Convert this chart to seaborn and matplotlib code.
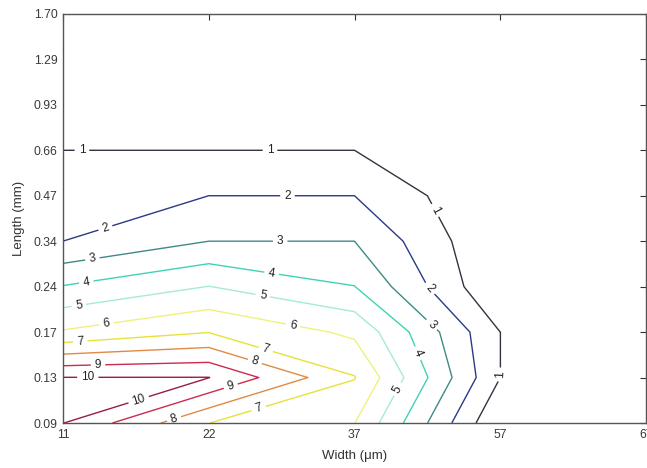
import numpy as np
import matplotlib
matplotlib.use("Agg")
import matplotlib.pyplot as plt
import seaborn as sns

# --- data ---
width_labels = ["11", "22", "37", "57", "67"]
length_labels = ["0.09", "0.13", "0.17", "0.24", "0.34", "0.47", "0.66", "0.93", "1.29", "1.70"]
# one row per length (bottom to top), one value per width
row_009 = [10.02, 7.01, 6.02, 0.0, 0.0]
row_013 = [10.02, 10.02, 7.05, 1.001, 0.0]
row_017 = [6.10, 6.97, 5.80, 1.001, 0.0]
row_024 = [4.05, 5.02, 4.02, 0.0, 0.0]
row_034 = [2.001, 3.001, 3.001, 0.0, 0.0]
row_047 = [1.50, 2.001, 2.001, 0.0, 0.0]
row_066 = [1.001, 1.001, 1.001, 0.0, 0.0]
row_093 = [0.0, 0.0, 0.0, 0.0, 0.0]
row_129 = [0.0, 0.0, 0.0, 0.0, 0.0]
row_170 = [0.0, 0.0, 0.0, 0.0, 0.0]
levels = [1, 2, 3, 4, 5, 6, 7, 8, 9, 10]
level_colors = ["#2e3440", "#2a3a86", "#3e8a86", "#3fd2b4", "#a6eadc",
                "#eef27a", "#e6e23a", "#e08a44", "#cc2a4e", "#9a1c42"]

Z = np.array([row_009, row_013, row_017, row_024, row_034,
              row_047, row_066, row_093, row_129, row_170])

sns.set_style("white")
plt.rcParams['font.family'] = ['Liberation Sans', 'DejaVu Sans']

fig = plt.figure(figsize=(6.47, 4.68), dpi=100)
ax = fig.add_axes([63 / 647, 1 - 423 / 468, (646 - 63) / 647, (423 - 14) / 468])

xi = np.arange(len(width_labels))
yi = np.arange(len(length_labels))

label_pos = {
    1: [(0.13, 6.0), (1.42, 6.0), (2.53, 4.64), (2.97, 1.06)],
    2: [(0.29, 4.3), (1.54, 5.0), (2.51, 2.94)],
    3: [(0.2, 3.64), (1.49, 4.0), (2.54, 2.2)],
    4: [(0.16, 3.1), (1.43, 3.27), (2.46, 1.57)],
    5: [(0.11, 2.56), (1.37, 2.78), (2.28, 0.77)],
    6: [(0.3, 2.16), (1.58, 2.2)],
    7: [(0.12, 1.77), (1.39, 1.6), (1.34, 0.35)],
    8: [(1.32, 1.39), (0.76, 0.11)],
    9: [(0.24, 1.3), (1.15, 0.82)],
    10: [(0.17, 1.0), (0.52, 0.5)],
}
for lev, col in zip(levels, level_colors):
    cs = ax.contour(xi, yi, Z, levels=[lev], colors=[col], linewidths=1.0)
    cs.clabel(manual=label_pos[lev], inline=True, inline_spacing=4,
              fontsize=8.5, fmt="%d", colors="#222222")

ax.set_xlim(0, len(width_labels) - 1)
ax.set_ylim(0, len(length_labels) - 1)
ax.set_xticks(xi)
ax.set_xticklabels(width_labels)
ax.set_yticks(yi)
ax.set_yticklabels(length_labels)
ax.tick_params(direction="in", length=4, width=0.8, colors="#333333",
               labelsize=8.8, labelcolor="#3a3a3a", top=True, right=True,
               labeltop=False, labelright=False, pad=4)
for sp in ax.spines.values():
    sp.set_visible(True)
    sp.set_color("#555555")
    sp.set_linewidth(1.0)
ax.set_xlabel("Width (\u03bcm)", fontsize=9.5, color="#333333", labelpad=7)
ax.set_ylabel("Length (mm)", fontsize=9.5, color="#333333", labelpad=6)

fig.savefig("out.png", dpi=100)
